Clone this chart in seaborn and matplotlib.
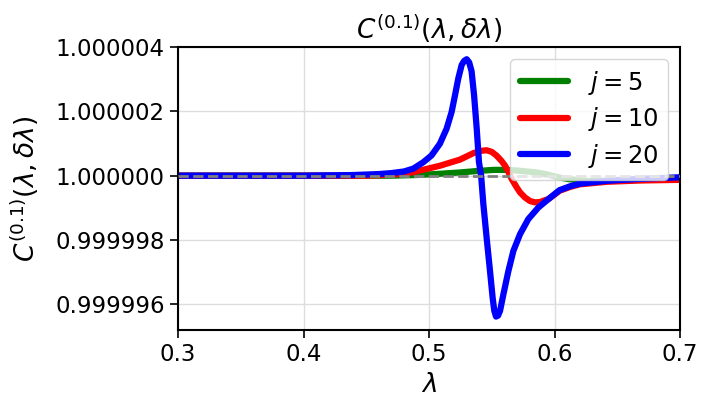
import numpy as np
import pandas as pd
import matplotlib
matplotlib.use("Agg")
import matplotlib.pyplot as plt
import seaborn as sns

# deviations from 1, in units of 1e-6
lam_j5 = [0.30, 0.47, 0.49, 0.505, 0.5247, 0.54, 0.5514, 0.560, 0.570, 0.5857, 0.595,
          0.6016, 0.610, 0.620, 0.628, 0.64, 0.66, 0.70]
dev_j5 = [0.0, 0.0, 0.02, 0.05, 0.10, 0.15, 0.18, 0.18, 0.16, 0.10, 0.03,
          -0.04, -0.10, -0.15, -0.17, -0.16, -0.14, -0.11]

lam_j10 = [0.30, 0.45, 0.47, 0.485, 0.4928, 0.5088, 0.5247, 0.5353, 0.541, 0.5459, 0.550,
           0.5539, 0.5575, 0.5606, 0.5632, 0.5658, 0.5698, 0.5725, 0.5765, 0.5805, 0.5845,
           0.5885, 0.591, 0.5951, 0.604, 0.6124, 0.62, 0.6416, 0.668, 0.70]
dev_j10 = [0.0, 0.0, 0.03, 0.09, 0.16, 0.31, 0.50, 0.70, 0.77, 0.79, 0.74,
           0.62, 0.47, 0.31, 0.12, -0.10, -0.36, -0.52, -0.68, -0.79, -0.83,
           -0.82, -0.78, -0.73, -0.47, -0.35, -0.27, -0.19, -0.15, -0.13]

lam_j20 = [0.30, 0.40, 0.44, 0.46, 0.47, 0.48, 0.4875, 0.4955, 0.502, 0.5086, 0.514,
           0.518, 0.5207, 0.5233, 0.526, 0.528, 0.530, 0.532, 0.5339, 0.5359, 0.538,
           0.5398, 0.5415, 0.5433, 0.5459, 0.5486, 0.5507, 0.552, 0.5534, 0.555, 0.5566,
           0.5592, 0.5632, 0.5672, 0.5725, 0.5791, 0.5871, 0.5951, 0.604, 0.6124, 0.62,
           0.6416, 0.668, 0.70]
dev_j20 = [0.0, 0.0, 0.02, 0.05, 0.08, 0.13, 0.22, 0.42, 0.63, 0.99, 1.46,
           1.98, 2.50, 3.02, 3.44, 3.57, 3.62, 3.52, 3.25, 2.50, 1.46,
           0.42, 0.0, -0.89, -1.93, -2.97, -3.80, -4.20, -4.38, -4.35, -4.20,
           -3.70, -2.97, -2.34, -1.82, -1.35, -0.99, -0.73, -0.45, -0.33, -0.25,
           -0.16, -0.10, -0.05]

series = [
    ("$j=5$", lam_j5, dev_j5, "green"),
    ("$j=10$", lam_j10, dev_j10, "red"),
    ("$j=20$", lam_j20, dev_j20, "blue"),
]

sns.set_style("ticks")
plt.rcParams["font.family"] = ["DejaVu Sans"]
plt.rcParams["mathtext.fontset"] = "dejavusans"
for k in ["text.color", "axes.labelcolor", "xtick.color", "ytick.color", "axes.edgecolor"]:
    plt.rcParams[k] = "black"

fig = plt.figure(figsize=(7.02, 4.08), dpi=100)
ax = fig.add_axes([0.2536, 0.191, 0.7151, 0.6938])

for label, lam, dev, col in series:
    df = pd.DataFrame({"lam": lam, "C": 1 + np.array(dev) * 1e-6})
    sns.lineplot(data=df, x="lam", y="C", color=col, linewidth=4.5, label=label,
                 ax=ax, sort=True, solid_joinstyle="round", solid_capstyle="round")

ax.axhline(1.0, color="gray", linestyle="--", linewidth=2, zorder=5)

ax.set_xlim(0.3, 0.7)
ax.set_ylim(0.9999952, 1.000004)
ax.set_xticks([0.3, 0.4, 0.5, 0.6, 0.7])
ax.set_yticks([0.999996, 0.999998, 1.0, 1.000002, 1.000004])
ax.set_yticklabels(["0.999996", "0.999998", "1.000000", "1.000002", "1.000004"])
ax.grid(True, color="#dddddd", linewidth=1)
ax.tick_params(labelsize=16.5, length=6, width=1.2)
for s in ax.spines.values():
    s.set_linewidth(1.5)

ax.set_title(r"$C^{(0.1)}(\lambda,\delta\lambda)$", fontsize=19)
ax.set_xlabel(r"$\lambda$", fontsize=19)
ax.set_ylabel(r"$C^{(0.1)}(\lambda,\delta\lambda)$", fontsize=19, labelpad=10)
ax.legend(loc="upper right", fontsize=17.5, framealpha=0.8,
          labelspacing=0.35, borderpad=0.4)

fig.savefig("out.png", dpi=100)
